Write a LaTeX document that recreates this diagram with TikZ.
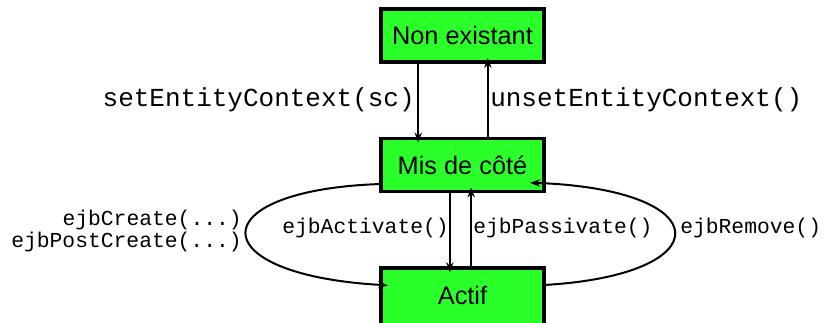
\documentclass[tikz,border=0pt]{standalone}
\usepackage{fontspec}
\setmainfont{Liberation Sans}
\newfontfamily\monof{Liberation Mono}
\usetikzlibrary{arrows.meta,calc}
\definecolor{boxgreen}{RGB}{42,255,42}
\begin{document}
\begin{tikzpicture}[x=0.75pt,y=-0.75pt,
  state/.style={draw=black,line width=2.6pt,fill=boxgreen,minimum width=122pt,minimum height=40pt,inner sep=0pt,font=\fontsize{19}{23}\selectfont},
  conn/.style={line width=1.5pt,-{Stealth[length=7.5pt,width=5.5pt]},shorten >=-4.5pt},
  biglab/.style={inner sep=0pt,font=\monof\fontsize{19.5}{23}\selectfont},
  smalllab/.style={inner sep=0pt,font=\monof\fontsize{16}{16.5}\selectfont,align=right}]
\clip (0,0) rectangle (824,323);
\node[state] (ne) at (462.5,35.5) {Non existant};
\node[state] (mc) at (462.5,165) {Mis de côté};
\node[state,minimum height=46.5pt,label={[yshift=3pt,font=\fontsize{19}{23}\selectfont]center:Actif}] (ac) at (462.5,299) {};
% top arrows
\draw[conn] ([xshift=-33.2pt]ne.south) -- ([xshift=-33.2pt]mc.north);
\draw[conn] ([xshift=19pt]mc.north) -- ([xshift=19pt]ne.south);
\node[biglab,anchor=east] (l1) at (415,100) {setEntityContext(sc)};
\node[biglab,anchor=west] (l2) at (490,100) {unsetEntityContext()};
% middle arrows
\draw[conn] ([xshift=-9.5pt]mc.south) -- ([xshift=-9.5pt]ac.north);
\draw[conn] ([xshift=6.5pt]ac.north) -- ([xshift=6.5pt]mc.south);
\node[smalllab,anchor=east] (l3) at (449,228) {ejbActivate()};
\node[smalllab,anchor=west] (l4) at (473,228) {ejbPassivate()};
% loops
\coordinate (ls) at (381,184);
\coordinate (le) at (382,285);
\coordinate (rs) at (544,285);
\coordinate (re) at (538,183);
\draw[line width=1.5pt] (ls) .. controls (200,190) and (200,275) .. (le);
\draw[conn] ($(le)+(-2,-0.15)$) -- (le);
\draw[line width=1.5pt] (rs) .. controls (720,275) and (720,190) .. (re);
\draw[conn,shorten >=-6pt] ($(re)+(2,0.05)$) -- (re);
\node[smalllab,anchor=east] (l5) at (242,231) {ejbCreate(...)\\ejbPostCreate(...)};
\node[smalllab,anchor=west] (l6) at (680,228) {ejbRemove()};
\end{tikzpicture}
\end{document}
